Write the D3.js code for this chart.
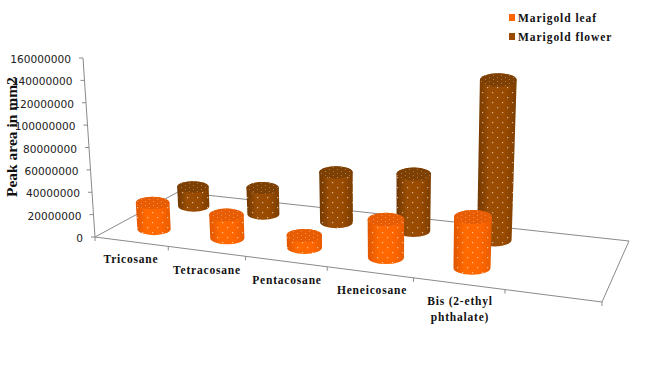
<!DOCTYPE html>
<html>
<head>
<meta charset="utf-8">
<title>Peak area</title>
<script src="https://cdn.jsdelivr.net/npm/d3@7"></script>
<style>
  html, body { margin: 0; padding: 0; background: #fff; }
  svg { display: block; }
  .serif { font-family: "Liberation Serif", serif; font-weight: bold; fill: #111; }
</style>
</head>
<body>
<svg id="mainsvg" width="652" height="378"></svg>
<script>
// data (peak area in millions)
const categories = ['Tricosane', 'Tetracosane', 'Pentacosane', 'Heneicosane', 'Bis (2-ethyl phthalate)'];
const seriesNames = ['Marigold leaf', 'Marigold flower'];
const leafValues = [23.7, 20.5, 10.4, 32, 41.8];
const flowerValues = [18.5, 24.6, 46, 51.4, 140.7];
const tickValues = [0, 20, 40, 60, 80, 100, 120, 140, 160];

const svg = d3.select('#mainsvg');

// floor corners in the picture, u along categories and v going back
const P00 = [95, 237], P10 = [602, 302], P11 = [629, 241], P01 = [178, 192];

// plain four corner perspective mapping
const dx1 = P10[0] - P11[0], dy1 = P10[1] - P11[1];
const dx2 = P01[0] - P11[0], dy2 = P01[1] - P11[1];
const sx = P00[0] - P10[0] + P11[0] - P01[0], sy = P00[1] - P10[1] + P11[1] - P01[1];
const det = dx1 * dy2 - dx2 * dy1;
const g_ = (sx * dy2 - dx2 * sy) / det;
const h_ = (dx1 * sy - sx * dy1) / det;
function project(u, v) {
    const w = 1 + g_ * u + h_ * v;
    return {
        x: ((P10[0] - P00[0] + g_ * P10[0]) * u + (P01[0] - P00[0] + h_ * P01[0]) * v + P00[0]) / w,
        y: ((P10[1] - P00[1] + g_ * P10[1]) * u + (P01[1] - P00[1] + h_ * P01[1]) * v + P00[1]) / w,
        s: 1 / w
    };
}

// the chart has an empty sixth slot on the right
const xScale = d3.scaleBand().domain([...categories, '']).range([0, 1]);
const zScale = d3.scaleBand().domain(seriesNames).range([0, 1]);
const yScale = d3.scaleLinear().domain([0, 160]).range([0, 179]);
const axisY = d3.scaleLinear().domain([0, 160]).range([237, 58]);
const axisX = d3.scaleLinear().domain([0, 160]).range([95, 83]);

const defs = svg.append('defs');
const colors = {
    'Marigold leaf': { stops: ['#e05500', '#ff6a00', '#ff6600', '#e85c00'], top: '#e85c04', mark: '#ff6600' },
    'Marigold flower': { stops: ['#6f3700', '#9a4d04', '#984a00', '#7c3e00'], top: '#7d3f02', mark: '#984a00' }
};
seriesNames.forEach((name, i) => {
    const grad = defs.append('linearGradient').attr('id', 'side' + i);
    colors[name].stops.forEach((c, j) => {
        grad.append('stop').attr('offset', [0, 0.3, 0.7, 1][j]).attr('stop-color', c);
    });
});
const dots = defs.append('pattern').attr('id', 'dots')
    .attr('width', 10).attr('height', 10).attr('patternUnits', 'userSpaceOnUse');
dots.append('rect').attr('x', 2).attr('y', 2).attr('width', 1.2).attr('height', 1.2).attr('fill', '#fff').attr('opacity', 0.6);
dots.append('rect').attr('x', 7).attr('y', 7).attr('width', 1.2).attr('height', 1.2).attr('fill', '#fff').attr('opacity', 0.6);
const dotsTop = defs.append('pattern').attr('id', 'dotsTop')
    .attr('width', 8).attr('height', 4).attr('patternUnits', 'userSpaceOnUse');
dotsTop.append('rect').attr('x', 1).attr('y', 1).attr('width', 1).attr('height', 1).attr('fill', '#fff').attr('opacity', 0.3);
dotsTop.append('rect').attr('x', 5).attr('y', 3).attr('width', 1).attr('height', 1).attr('fill', '#fff').attr('opacity', 0.3);

// axes and floor
const axisColor = '#8a8a8a';
const axes = svg.append('g').attr('fill', 'none').attr('stroke', axisColor).attr('stroke-width', 1);
axes.append('path').attr('d', d3.line()([P01, P00, P10, P11, P01]));
axes.append('path').attr('d', d3.line()([[axisX(0), axisY(0)], [axisX(160), axisY(160)]]));
xScale.domain().forEach((c, i) => {
    const p = project(xScale.step() * i, 0);
    axes.append('path').attr('d', d3.line()([[p.x, p.y], [p.x, p.y + 4]]));
});
const last = project(1, 0);
axes.append('path').attr('d', d3.line()([[last.x, last.y], [last.x, last.y + 4]]));

tickValues.forEach(t => {
    axes.append('path').attr('d', d3.line()([[axisX(t) - 4, axisY(t)], [axisX(t), axisY(t)]]));
    svg.append('text')
        .attr('x', axisX(t) - 12)
        .attr('y', axisY(t) + 5)
        .attr('text-anchor', 'end')
        .attr('font-family', 'DejaVu Sans')
        .attr('font-size', 10.6)
        .attr('fill', '#222')
        .text(t === 0 ? '0' : t + '000000');
});

// cylinders, back row first
function drawCylinder(cat, name, value) {
    const base = project(xScale(cat) + xScale.bandwidth() / 2, zScale(name) + zScale.bandwidth() / 2);
    base.x += 1;
    const hpx = yScale(value) * base.s;
    const rx0 = 17 * base.s, ry0 = rx0 * 0.37;
    const rx1 = rx0 * (1 + hpx * 0.0004), ry1 = ry0 * (1 + hpx * 0.0004);
    const tx = base.x + (base.x - 386) * 0.00023 * hpx, ty = base.y - hpx;
    const i = seriesNames.indexOf(name);
    const d = `M${base.x - rx0},${base.y} A${rx0},${ry0} 0 0 0 ${base.x + rx0},${base.y}`
        + ` L${tx + rx1},${ty} A${rx1},${ry1} 0 0 0 ${tx - rx1},${ty} Z`;
    const g = svg.append('g');
    g.append('path').attr('d', d).attr('fill', `url(#side${i})`);
    g.append('path').attr('d', d).attr('fill', 'url(#dots)');
    g.append('ellipse').attr('cx', tx).attr('cy', ty).attr('rx', rx1).attr('ry', ry1).attr('fill', colors[name].top);
    g.append('ellipse').attr('cx', tx).attr('cy', ty).attr('rx', rx1).attr('ry', ry1).attr('fill', 'url(#dotsTop)');
}
categories.forEach((c, i) => drawCylinder(c, seriesNames[1], flowerValues[i]));
categories.forEach((c, i) => drawCylinder(c, seriesNames[0], leafValues[i]));

// category labels
const labelSpots = [[131, 263], [207, 274], [287, 284], [372, 294], [460, 305]];
categories.forEach((c, i) => {
    const t = svg.append('text').attr('class', 'serif')
        .attr('text-anchor', 'middle')
        .attr('font-size', 11.5)
        .attr('letter-spacing', 0.8);
    const lines = c === 'Bis (2-ethyl phthalate)' ? ['Bis (2-ethyl', 'phthalate)'] : [c];
    lines.forEach((l, j) => {
        t.append('tspan').attr('x', labelSpots[i][0]).attr('y', labelSpots[i][1] + j * 16).text(l);
    });
});

// y title
svg.append('text').attr('class', 'serif')
    .attr('transform', 'translate(17,197) rotate(-90)')
    .attr('font-size', 15.5)
    .text('Peak area in mm2');

// legend
seriesNames.forEach((name, i) => {
    svg.append('rect').attr('x', 509).attr('y', 14 + i * 19).attr('width', 6).attr('height', 7)
        .attr('fill', colors[name].mark);
    svg.append('text').attr('class', 'serif')
        .attr('x', 518).attr('y', 22 + i * 19)
        .attr('font-size', 11.5)
        .attr('letter-spacing', 0.95)
        .text(name);
});
</script>
</body>
</html>
